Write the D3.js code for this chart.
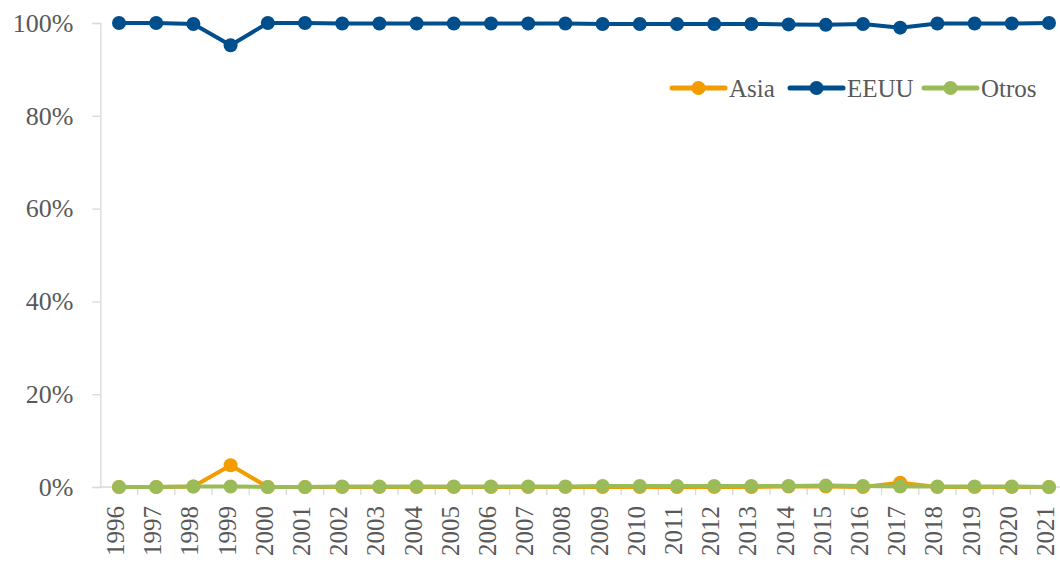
<!DOCTYPE html>
<html>
<head>
<meta charset="utf-8">
<script src="https://cdn.jsdelivr.net/npm/d3@7"></script>
<style>
  html, body { margin: 0; padding: 0; background: #fff; }
  svg text { font-family: "Liberation Serif", "DejaVu Serif", serif; fill: #595959; }
</style>
</head>
<body>
<svg id="chart" width="1060" height="562"></svg>
<script>
// Share of exports by destination, 1996–2021
const years = ["1996","1997","1998","1999","2000","2001","2002","2003","2004","2005","2006","2007","2008","2009","2010","2011","2012","2013","2014","2015","2016","2017","2018","2019","2020","2021"];
const asia  = [0.00,0.00,0.001,0.047,0.00,0.00,0.00,0.00,0.00,0.00,0.00,0.00,0.00,0.00,0.00,0.00,0.00,0.00,0.001,0.001,0.00,0.009,0.00,0.00,0.00,0.00];
const eeuu  = [1.00,1.00,0.998,0.952,1.00,1.00,0.999,0.999,0.999,0.999,0.999,0.999,0.999,0.998,0.998,0.998,0.998,0.998,0.997,0.996,0.998,0.990,0.999,0.999,0.999,1.00];
const otros = [0.00,0.00,0.001,0.001,0.00,0.00,0.001,0.001,0.001,0.001,0.001,0.001,0.001,0.002,0.002,0.002,0.002,0.002,0.002,0.003,0.002,0.001,0.001,0.001,0.001,0.00];
const yTicks = [0, 0.2, 0.4, 0.6, 0.8, 1.0];

const series = [
  { name: "Asia",  values: asia,  color: "#f39c00" },
  { name: "EEUU",  values: eeuu,  color: "#004f8c" },
  { name: "Otros", values: otros, color: "#9bbb59" }
];

const svg = d3.select("#chart");
const plotLeft = 100.4, plotTop = 23, plotBottom = 487;
const band = 37.2;

const x = d3.scaleBand().domain(years).range([plotLeft, plotLeft + band * years.length]).padding(0);
const y = d3.scaleLinear().domain([0, 1]).range([plotBottom, plotTop]);
const axisColor = "#d9d9d9";

// Y axis
const yAxis = svg.append("g")
  .attr("transform", `translate(${plotLeft},0)`)
  .call(d3.axisLeft(y).tickValues(yTicks).tickFormat(d3.format(".0%")).tickSize(8).tickPadding(19));
yAxis.select(".domain").attr("stroke", axisColor).attr("stroke-width", 1.3);
yAxis.selectAll(".tick line").attr("stroke", axisColor).attr("stroke-width", 1.3);
yAxis.selectAll(".tick text").attr("font-size", 26).attr("fill", "#595959")
  .style("font-family", "'Liberation Serif', serif");

// X axis: tick marks between categories
const xAxisG = svg.append("g").attr("transform", `translate(0,${plotBottom})`);
xAxisG.append("line")
  .attr("x1", plotLeft).attr("x2", plotLeft + band * years.length)
  .attr("stroke", axisColor).attr("stroke-width", 1.3);
xAxisG.selectAll("line.sep")
  .data(years)
  .join("line")
  .attr("class", "sep")
  .attr("x1", d => x(d) + x.bandwidth())
  .attr("x2", d => x(d) + x.bandwidth())
  .attr("y1", 0).attr("y2", 8)
  .attr("stroke", axisColor).attr("stroke-width", 1.3);
xAxisG.selectAll("text.year")
  .data(years)
  .join("text")
  .attr("class", "year")
  .attr("transform", d => `translate(${x(d) + x.bandwidth() / 2 + 5},19) rotate(-90)`)
  .attr("text-anchor", "end")
  .attr("font-size", 25)
  .text(d => d);

// Lines and markers
const line = d3.line()
  .x((d, i) => x(years[i]) + x.bandwidth() / 2)
  .y(d => y(d));

series.forEach(s => {
  const g = svg.append("g");
  g.append("path")
    .datum(s.values)
    .attr("d", line)
    .attr("fill", "none")
    .attr("stroke", s.color)
    .attr("stroke-width", 4)
    .attr("stroke-linejoin", "round")
    .attr("stroke-linecap", "round");
  g.selectAll("circle")
    .data(s.values)
    .join("circle")
    .attr("cx", (d, i) => x(years[i]) + x.bandwidth() / 2)
    .attr("cy", d => y(d))
    .attr("r", 7)
    .attr("fill", s.color);
});

// Legend
const legendX = [670, 788, 922];
const legendY = 88;
const legend = svg.append("g");
series.forEach((s, i) => {
  const lg = legend.append("g").attr("transform", `translate(${legendX[i]},${legendY})`);
  lg.append("line").attr("x1", 2).attr("x2", 55).attr("y1", 0).attr("y2", 0)
    .attr("stroke", s.color).attr("stroke-width", 5).attr("stroke-linecap", "round");
  lg.append("circle").attr("cx", 28.5).attr("cy", 0).attr("r", 7).attr("fill", s.color);
  lg.append("text").attr("x", 59).attr("y", 9).attr("font-size", 25).text(s.name);
});
</script>
</body>
</html>
